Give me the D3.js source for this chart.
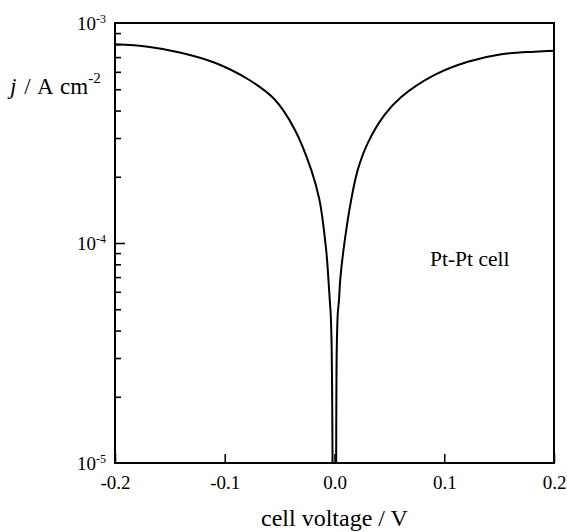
<!DOCTYPE html>
<html>
<head>
<meta charset="utf-8">
<script src="https://cdn.jsdelivr.net/npm/d3@7"></script>
<style>
  body { margin: 0; background: #fff; }
  svg text { font-family: "Liberation Serif", "Times New Roman", serif; fill: #000; }
</style>
</head>
<body>
<div class="chart"></div>
<script>
// cell voltage (V) vs current density (A cm^-2)
var voltage = [-0.2, -0.170, -0.140, -0.109, -0.0787, -0.0547, -0.0365, -0.0212, -0.0137,
               -0.0076, -0.0055, -0.0043, -0.0035, -0.0026, -0.0021, -0.0018,
               0.0015, 0.0017, 0.0021, 0.0030, 0.0041, 0.0052, 0.0082, 0.0152, 0.0212, 0.0304,
               0.0456, 0.0608, 0.0912, 0.1215, 0.152, 0.1823, 0.2];
var current = [8.0e-4, 7.8e-4, 7.33e-4, 6.6e-4, 5.55e-4, 4.5e-4, 3.3e-4, 2.15e-4, 1.57e-4,
               9.3e-5, 6.8e-5, 5.5e-5, 4.8e-5, 3.4e-5, 1.93e-5, 1.0e-5,
               1.0e-5, 1.93e-5, 3.4e-5, 4.8e-5, 5.5e-5, 6.8e-5, 9.3e-5, 1.57e-4, 2.15e-4, 2.85e-4,
               3.82e-4, 4.61e-4, 5.81e-4, 6.67e-4, 7.21e-4, 7.41e-4, 7.48e-4];

var xTicks = [-0.2, -0.1, 0.0, 0.1, 0.2];
var xTickLabels = ["-0.2", "-0.1", "0.0", "0.1", "0.2"];
var yMajor = [1e-5, 1e-4, 1e-3];
var yMajorExp = ["-5", "-4", "-3"];

var width = 567, height = 532;
var plot = {left: 115, right: 554, top: 23, bottom: 463};

var x = d3.scaleLinear().domain([-0.2, 0.2]).range([plot.left, plot.right]);
var y = d3.scaleLog().domain([1e-5, 1e-3]).range([plot.bottom, plot.top]);

var svg = d3.select(".chart").append("svg")
    .attr("width", width)
    .attr("height", height);

// minor ticks 2..9 of each decade
var yMinor = [];
[1e-5, 1e-4].forEach(function(base) {
  for (var k = 2; k <= 9; k++) yMinor.push(base * k);
});

svg.append("g")
    .attr("transform", "translate(" + plot.left + ",0)")
    .call(d3.axisLeft(y).tickValues(yMinor).tickSize(-6).tickFormat(""))
    .call(function(g) { g.select(".domain").remove(); })
    .selectAll("line").attr("stroke-width", 1.6);

svg.append("g")
    .attr("transform", "translate(" + plot.left + ",0)")
    .call(d3.axisLeft(y).tickValues([1e-4]).tickSize(-10).tickFormat(""))
    .call(function(g) { g.select(".domain").remove(); })
    .selectAll("line").attr("stroke-width", 1.6);

// y tick labels 10^n
var yl = svg.append("g").selectAll("text")
    .data(yMajor)
  .enter().append("text")
    .attr("x", 106)
    .attr("y", function(d) { return y(d) + 7; })
    .attr("text-anchor", "end")
    .style("font-size", "19px");
yl.append("tspan").text("10");
yl.append("tspan")
    .attr("dy", -7)
    .style("font-size", "12px")
    .text(function(d, i) { return yMajorExp[i]; });

// x axis
var xAxis = svg.append("g")
    .attr("transform", "translate(0," + plot.bottom + ")")
    .call(d3.axisBottom(x).tickValues(xTicks).tickSize(-9).tickPadding(13)
      .tickFormat(function(d, i) { return xTickLabels[i]; }));
xAxis.select(".domain").remove();
xAxis.selectAll("line").attr("stroke-width", 1.6);
xAxis.selectAll("text")
    .style("font-size", "19px")
    .style("font-family", "Liberation Serif, serif")
    .attr("fill", "#000");

// curve: one path per branch (negative / positive voltage)
var points = voltage.map(function(v, i) { return [v, current[i]]; });
var branches = [
  points.filter(function(p) { return p[0] < 0; }),
  points.filter(function(p) { return p[0] > 0; })
];

var line = d3.line()
    .x(function(d) { return x(d[0]); })
    .y(function(d) { return y(d[1]); })
    .curve(d3.curveCatmullRom.alpha(0.5));

svg.append("clipPath").attr("id", "clip")
  .append("rect")
    .attr("x", plot.left).attr("y", plot.top)
    .attr("width", plot.right - plot.left).attr("height", plot.bottom - plot.top);

svg.selectAll(".branch")
    .data(branches)
  .enter().append("path")
    .attr("class", "branch")
    .attr("clip-path", "url(#clip)")
    .attr("fill", "none")
    .attr("stroke", "#000")
    .attr("stroke-width", 2)
    .attr("d", line);

// frame
svg.append("rect")
    .attr("x", plot.left).attr("y", plot.top)
    .attr("width", plot.right - plot.left).attr("height", plot.bottom - plot.top)
    .attr("fill", "none")
    .attr("stroke", "#000")
    .attr("stroke-width", 2);

// labels
var yt = svg.append("text")
    .attr("x", 10)
    .attr("y", 94)
    .style("font-size", "23px")
    .style("word-spacing", "2px");
yt.append("tspan").style("font-style", "italic").text("j");
yt.append("tspan").text(" / A cm");
yt.append("tspan").attr("dy", -11).style("font-size", "15px").text("-2");

svg.append("text")
    .attr("x", (plot.left + plot.right) / 2)
    .attr("y", 526)
    .attr("text-anchor", "middle")
    .style("font-size", "24px")
    .text("cell voltage / V");

svg.append("text")
    .attr("x", 430)
    .attr("y", 266)
    .style("font-size", "21.5px")
    .text("Pt-Pt cell");
</script>
</body>
</html>
